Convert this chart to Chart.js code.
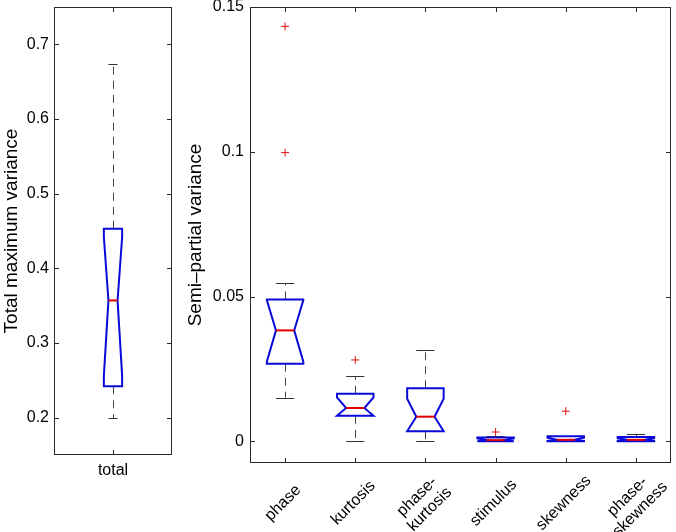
<!DOCTYPE html>
<html>
<head>
<meta charset="utf-8">
<script src="https://cdn.jsdelivr.net/npm/chart.js@4.4.1/dist/chart.umd.min.js"></script>
<style>
  html, body { margin: 0; padding: 0; background: #fff; }
  #wrap { position: relative; width: 676px; height: 532px; }
  canvas { position: absolute; top: 0; }
</style>
</head>
<body>
<div id="wrap">
  <canvas id="leftChart" width="180" height="532" style="left:0"></canvas>
  <canvas id="rightChart" width="496" height="532" style="left:180px"></canvas>
</div>
<script>
// ---- left panel: total maximum variance ----
const totalLabels = ['total'];
const totalQ1 = [0.242];
const totalMedian = [0.357];
const totalQ3 = [0.453];
const totalWhiskerLo = [0.199];
const totalWhiskerHi = [0.673];
const totalNotchLo = [0.256];
const totalNotchHi = [0.442];
const totalTicks = [0.2, 0.3, 0.4, 0.5, 0.6, 0.7];

// ---- right panel: semi-partial variance ----
const partLabels = ['phase', 'kurtosis', ['phase-', 'kurtosis'], 'stimulus', 'skewness', ['phase-', 'skewness']];
const partQ1 = [0.0268, 0.0088, 0.0035, 0.0000, 0.0000, 0.0000];
const partMedian = [0.0383, 0.0115, 0.0085, 0.0004, 0.0005, 0.0005];
const partQ3 = [0.0490, 0.0164, 0.0183, 0.0013, 0.0017, 0.0015];
const partWhiskerLo = [0.0151, 0.0000, 0.0000, 0.0000, 0.0000, 0.0000];
const partWhiskerHi = [0.0545, 0.0226, 0.0316, 0.0017, 0.0018, 0.0025];
const partNotchLo = [0.0275, 0.0088, 0.0035, 0.0000, 0.0001, 0.0001];
const partNotchHi = [0.0488, 0.0152, 0.0147, 0.0010, 0.0012, 0.0011];
const partOutlierIdx = [0, 0, 1, 3, 4];
const partOutlierVal = [0.0997, 0.1433, 0.0281, 0.0032, 0.0104];
const partTicks = [0, 0.05, 0.1, 0.15];

const FONT = '"Liberation Sans", Arial, Helvetica, sans-serif';
Chart.defaults.font.family = FONT;
Chart.defaults.color = '#000';

const boxplotPlugin = {
  id: 'boxplot',
  afterDatasetsDraw(chart, args, opts) {
    const ctx = chart.ctx;
    const x = chart.scales.x, y = chart.scales.y;
    const area = chart.chartArea;
    const band = (area.right - area.left) / opts.q1.length;
    const w = band * opts.widthFrac / 2;
    ctx.save();
    for (let i = 0; i < opts.q1.length; i++) {
      const cx = x.getPixelForValue(i);
      const px = Math.round(cx) + 0.5;
      const yq1 = y.getPixelForValue(opts.q1[i]);
      const yq3 = y.getPixelForValue(opts.q3[i]);
      const ymed = y.getPixelForValue(opts.median[i]);
      const ylo = y.getPixelForValue(opts.lo[i]);
      const yhi = y.getPixelForValue(opts.hi[i]);
      const ynlo = y.getPixelForValue(opts.notchLo[i]);
      const ynhi = y.getPixelForValue(opts.notchHi[i]);

      // whiskers
      ctx.strokeStyle = '#444';
      ctx.lineWidth = 1;
      ctx.setLineDash([8, 6]);
      ctx.beginPath();
      ctx.moveTo(px, yq3); ctx.lineTo(px, yhi);
      ctx.moveTo(px, yq1); ctx.lineTo(px, ylo);
      ctx.stroke();
      ctx.setLineDash([]);
      ctx.strokeStyle = '#333';
      ctx.beginPath();
      ctx.moveTo(cx - w / 2, Math.round(yhi) + 0.5); ctx.lineTo(cx + w / 2, Math.round(yhi) + 0.5);
      ctx.moveTo(cx - w / 2, Math.round(ylo) + 0.5); ctx.lineTo(cx + w / 2, Math.round(ylo) + 0.5);
      ctx.stroke();

      // notched box
      ctx.strokeStyle = '#0a0ad8';
      ctx.lineWidth = 2;
      ctx.lineJoin = 'miter';
      ctx.beginPath();
      ctx.moveTo(cx - w, yq3);
      ctx.lineTo(cx + w, yq3);
      ctx.lineTo(cx + w, ynhi);
      ctx.lineTo(cx + w / 2, ymed);
      ctx.lineTo(cx + w, ynlo);
      ctx.lineTo(cx + w, yq1);
      ctx.lineTo(cx - w, yq1);
      ctx.lineTo(cx - w, ynlo);
      ctx.lineTo(cx - w / 2, ymed);
      ctx.lineTo(cx - w, ynhi);
      ctx.closePath();
      ctx.stroke();

      // median
      ctx.strokeStyle = '#e00000';
      ctx.beginPath();
      ctx.moveTo(cx - w / 2, ymed); ctx.lineTo(cx + w / 2, ymed);
      ctx.stroke();
    }
    ctx.restore();
  },
  afterDraw(chart, args, opts) {
    const ctx = chart.ctx;
    const a = chart.chartArea;
    const x = chart.scales.x, y = chart.scales.y;
    const tl = 5;
    ctx.save();
    ctx.strokeStyle = '#2a2a2a';
    ctx.lineWidth = 1;
    ctx.strokeRect(a.left + 0.5, a.top + 0.5, a.right - a.left - 1, a.bottom - a.top - 1);
    ctx.beginPath();
    y.ticks.forEach(t => {
      const py = Math.round(y.getPixelForValue(t.value)) + 0.5;
      ctx.moveTo(a.left, py); ctx.lineTo(a.left + tl, py);
      ctx.moveTo(a.right, py); ctx.lineTo(a.right - tl, py);
    });
    chart.data.labels.forEach((lab, i) => {
      const px = Math.round(x.getPixelForValue(i)) + 0.5;
      ctx.moveTo(px, a.bottom); ctx.lineTo(px, a.bottom - tl);
      ctx.moveTo(px, a.top); ctx.lineTo(px, a.top + tl);
    });
    ctx.stroke();

    // rotated category labels, text block centred under its tick
    if (opts.rotLabels) {
      ctx.fillStyle = '#000';
      ctx.font = '16px ' + FONT;
      ctx.textAlign = 'center';
      ctx.textBaseline = 'middle';
      chart.data.labels.forEach((lab, i) => {
        const lines = Array.isArray(lab) ? lab : [lab];
        ctx.save();
        ctx.translate(x.getPixelForValue(i) + opts.labelDx, a.bottom + opts.labelDy);
        ctx.rotate(-Math.PI / 4);
        lines.forEach((ln, k) => ctx.fillText(ln, 0, (k - (lines.length - 1) / 2) * opts.lineH));
        ctx.restore();
      });
    }
    ctx.restore();
  }
};

function makeChart(id, cfg) {
  return new Chart(document.getElementById(id), {
    type: 'line',
    data: {
      labels: cfg.labels,
      datasets: [{
        data: cfg.outliers,
        parsing: false,
        showLine: false,
        pointStyle: 'cross',
        pointRadius: 4,
        pointBorderWidth: 1,
        borderColor: '#e01010',
        backgroundColor: '#e01010'
      }]
    },
    options: {
      responsive: false,
      devicePixelRatio: 1,
      animation: false,
      events: [],
      layout: { padding: cfg.padding },
      plugins: {
        legend: { display: false },
        tooltip: { enabled: false },
        boxplot: cfg.box
      },
      scales: {
        x: {
          offset: true,
          grid: { display: false, drawTicks: false },
          border: { display: false },
          afterFit: s => { s.height = cfg.xHeight; s.paddingLeft = 0; s.paddingRight = 0; },
          ticks: {
            display: !cfg.box.rotLabels,
            autoSkip: false,
            maxRotation: 0,
            minRotation: 0,
            padding: cfg.xPad,
            font: { size: 16 }
          }
        },
        y: {
          min: cfg.yMin,
          max: cfg.yMax,
          grid: { display: false, drawTicks: false },
          border: { display: false },
          afterFit: s => { s.width = cfg.yWidth; s.paddingTop = 0; s.paddingBottom = 0; },
          afterBuildTicks: s => { s.ticks = cfg.yTicks.map(v => ({ value: v })); },
          ticks: {
            padding: cfg.yPad,
            font: { size: 16 },
            callback: v => String(v)
          },
          title: {
            display: true,
            text: cfg.yTitle,
            font: { size: 19 },
            padding: { top: cfg.titlePad, bottom: 0 }
          }
        }
      }
    },
    plugins: [boxplotPlugin]
  });
}

makeChart('leftChart', {
  labels: totalLabels,
  outliers: [],
  padding: { left: 0, right: 8, top: 7, bottom: 0 },
  xHeight: 77,
  yWidth: 54,
  xPad: 6,
  yPad: 5,
  titlePad: 0,
  yMin: 0.15,
  yMax: 0.75,
  yTicks: totalTicks,
  yTitle: 'Total maximum variance',
  box: {
    q1: totalQ1, median: totalMedian, q3: totalQ3,
    lo: totalWhiskerLo, hi: totalWhiskerHi,
    notchLo: totalNotchLo, notchHi: totalNotchHi,
    widthFrac: 0.155, rotLabels: false
  }
});

makeChart('rightChart', {
  labels: partLabels,
  outliers: partOutlierIdx.map((idx, k) => ({ x: idx, y: partOutlierVal[k] })),
  padding: { left: 0, right: 2, top: 7, bottom: 0 },
  xHeight: 69,
  yWidth: 70,
  xPad: 4,
  yPad: 6,
  titlePad: 4,
  yMin: -0.0075,
  yMax: 0.15,
  yTicks: partTicks,
  yTitle: 'Semi\u2013partial variance',
  box: {
    q1: partQ1, median: partMedian, q3: partQ3,
    lo: partWhiskerLo, hi: partWhiskerHi,
    notchLo: partNotchLo, notchHi: partNotchHi,
    widthFrac: 0.52, rotLabels: true,
    labelDx: -2, labelDy: 40, lineH: 18
  }
});
</script>
</body>
</html>
